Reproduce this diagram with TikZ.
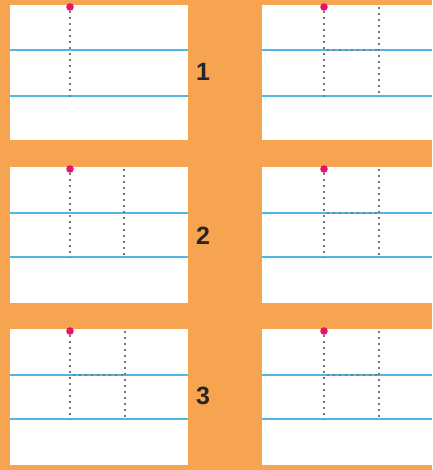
\documentclass[tikz,border=0pt]{standalone}
\usepackage{fontspec}
\setmainfont{Liberation Sans}
\definecolor{bgorange}{RGB}{247,164,80}
\definecolor{lineblue}{RGB}{80,184,232}
\definecolor{dotgray}{RGB}{120,120,120}
\definecolor{pinkdot}{RGB}{230,20,110}
\tikzset{
  panelbox/.style={fill=white,draw=none},
  guide/.style={draw=lineblue,line width=1.8pt},
  dotline/.style={draw=dotgray,line width=2pt,dash pattern=on 2pt off 4pt},
  startdot/.style={fill=pinkdot,draw=none},
  numlabel/.style={font=\bfseries\fontsize{25}{25}\selectfont,text=black!85}
}
\begin{document}
\begin{tikzpicture}[x=1pt,y=-1pt]
\fill[bgorange] (0,0) rectangle (432,470);
\useasboundingbox (0,0) rectangle (432,470);
% ---- row 1 ----
\fill[panelbox] (10,5) rectangle (188,140);
\draw[guide] (10,50) -- (188,50);
\draw[guide] (10,96) -- (188,96);
\draw[dotline] (70,11) -- (70,97);
\fill[startdot] (70,7) circle (3.8);
\fill[panelbox] (262,5) rectangle (432,140);
\draw[guide] (262,50) -- (432,50);
\draw[guide] (262,96) -- (432,96);
\draw[dotline] (324,11) -- (324,97);
\draw[dotline] (379,7) -- (379,97);
\draw[dotline] (327,50) -- (379,50);
\fill[startdot] (324,7) circle (3.8);
\node[numlabel] (n1) at (203,72) {1};
% ---- row 2 ----
\fill[panelbox] (10,167) rectangle (188,303);
\draw[guide] (10,213) -- (188,213);
\draw[guide] (10,257) -- (188,257);
\draw[dotline] (70,173) -- (70,258);
\draw[dotline] (124,169) -- (124,258);
\fill[startdot] (70,169) circle (3.8);
\fill[panelbox] (262,167) rectangle (432,303);
\draw[guide] (262,213) -- (432,213);
\draw[guide] (262,257) -- (432,257);
\draw[dotline] (324,173) -- (324,258);
\draw[dotline] (379,169) -- (379,258);
\draw[dotline] (327,213) -- (379,213);
\fill[startdot] (324,169) circle (3.8);
\node[numlabel] (n2) at (203,236) {2};
% ---- row 3 ----
\fill[panelbox] (10,329) rectangle (188,465);
\draw[guide] (10,375) -- (188,375);
\draw[guide] (10,419) -- (188,419);
\draw[dotline] (70,335) -- (70,420);
\draw[dotline] (125,331) -- (125,420);
\draw[dotline] (73,375) -- (125,375);
\fill[startdot] (70,331) circle (3.8);
\fill[panelbox] (262,329) rectangle (432,465);
\draw[guide] (262,375) -- (432,375);
\draw[guide] (262,419) -- (432,419);
\draw[dotline] (324,335) -- (324,420);
\draw[dotline] (379,331) -- (379,420);
\draw[dotline] (327,375) -- (379,375);
\fill[startdot] (324,331) circle (3.8);
\node[numlabel] (n3) at (203,396) {3};
\end{tikzpicture}
\end{document}
